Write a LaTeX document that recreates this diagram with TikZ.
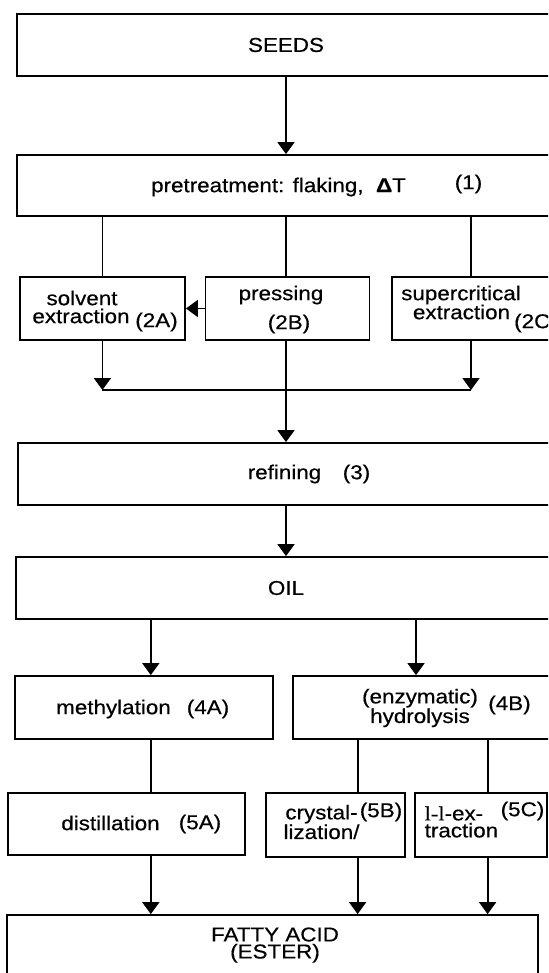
\documentclass[tikz,border=0pt]{standalone}
\usepackage{fontspec}
\setmainfont{Liberation Sans}[FakeStretch=1.12, FakeBold=0.5]
\newfontfamily\serifl{Liberation Serif}[FakeStretch=1.12, FakeBold=0.5]
\usetikzlibrary{arrows.meta, calc}

\begin{document}
\begin{tikzpicture}[
    x=1pt, y=-1pt,
    procbox/.style 2 args={
      draw, line width=1.8pt, inner sep=0pt,
      minimum width=#1pt, minimum height=#2pt,
      font=\fontsize{20}{17}\selectfont
    },
    txt/.style={inner sep=0pt, align=center, font=\fontsize{20}{17}\selectfont},
    flow/.style={-{Triangle[length=12pt, width=17pt]}, line width=1.8pt},
    link/.style={line width=1.8pt},
]
    \useasboundingbox (0,0) rectangle (548,973);
    \clip (0,0) rectangle (548,973);

    % columns of the connectors
    \coordinate (cL) at (102.4,0);
    \coordinate (cM) at (286,0);
    \coordinate (cR) at (471,0);
    \coordinate (cA) at (150.8,0);
    \coordinate (cO) at (416,0);
    \coordinate (cB) at (357.6,0);
    \coordinate (cC) at (487.6,0);

    % boxes
    \node[procbox={537.5}{62}] (seeds) at (286,45) {SEEDS};
    \node[procbox={537.5}{61}] (pre) at (286,185.5) {};
    \node[procbox={165}{63}] (solv) at (102.5,308.5) {};
    \node[procbox={164}{63}] (press) at (287.5,308.5) {};
    \node[procbox={159.5}{63}] (super) at (472,308.5) {};
    \node[procbox={536}{62}] (refin) at (286,474) {};
    \node[procbox={540}{62}] (oil) at (286,588) {OIL};
    \node[procbox={258}{63}] (meth) at (144,707.5) {};
    \node[procbox={262}{63}] (hydro) at (424,707.5) {};
    \node[procbox={236.4}{62}] (dist) at (126.5,824) {};
    \node[procbox={138.7}{64}] (cryst) at (335.3,825) {};
    \node[procbox={131.7}{64}] (llex) at (480.8,825) {};
    \node[procbox={530.7}{84}] (fatty) at (272.6,957) {};

    % texts
    \node[txt] (pretxt) at (278.5,187) {pretreatment: flaking,\ \ {\bfseries Δ}T};
    \node[txt] (n1) at (468.5,184) {(1)};
    \node[txt] (solvtxt) at (82,298) {solvent};
    \node[txt] (solvtxt2) at (81,316) {extraction};
    \node[txt] (n2A) at (156.5,322) {(2A)};
    \node[txt] (presstxt) at (281,295) {pressing};
    \node[txt] (n2B) at (289,324) {(2B)};
    \node[txt] (suptxt) at (461,295) {supercritical};
    \node[txt] (suptxt2) at (461.5,312) {extraction};
    \node[txt, anchor=west] (n2C) at (514,323) {(2C)};
    \node[txt] (reftxt) at (284.5,474) {refining};
    \node[txt] (n3) at (356.5,474) {(3)};
    \node[txt] (methtxt) at (113.5,709) {methylation};
    \node[txt] (n4A) at (208,709) {(4A)};
    \node[txt] (hydtxt) at (420,708) {(enzymatic)\\hydrolysis};
    \node[txt] (n4B) at (509.5,705) {(4B)};
    \node[txt] (disttxt) at (110.5,823) {distillation};
    \node[txt] (n5A) at (200,824) {(5A)};
    \node[txt] (crytxt) at (321.5,822) {crystal-\\lization/};
    \node[txt] (n5B) at (381,812) {(5B)};
    \node[txt, anchor=west, align=left] (lltxt) at (424.5,822) {{\serifl l-l}-ex-\\traction};
    \node[txt] (n5C) at (522.5,811) {(5C)};
    \node[txt] (fattxt) at (275,945) {FATTY ACID\\(ESTER)};

    % connectors
    \draw[flow] (seeds.south) -- (pre.north);
    \draw[link] (pre.south -| cL) -- (solv.north -| cL);
    \draw[link] (pre.south -| cM) -- (press.north -| cM);
    \draw[link] (pre.south -| cR) -- (super.north -| cR);
    \draw[flow] (press.west) -- (solv.east);

    \coordinate (joinL) at (102.4,390);
    \coordinate (joinR) at (471,390);
    \draw[flow] (solv.south -| cL) -- (joinL);
    \draw[flow] (super.south -| cR) -- (joinR);
    \draw[link] (joinL) -- (joinR);
    \draw[flow] (press.south -| cM) -- (refin.north -| cM);
    \draw[flow] (refin.south) -- (oil.north);

    \draw[flow] (oil.south -| cA) -- (meth.north -| cA);
    \draw[flow] (oil.south -| cO) -- (hydro.north -| cO);
    \draw[link] (meth.south -| cA) -- (dist.north -| cA);
    \draw[link] (hydro.south -| cB) -- (cryst.north -| cB);
    \draw[link] (hydro.south -| cC) -- (llex.north -| cC);

    \draw[flow] (dist.south -| cA) -- (fatty.north -| cA);
    \draw[flow] (cryst.south -| cB) -- (fatty.north -| cB);
    \draw[flow] (llex.south -| cC) -- (fatty.north -| cC);
\end{tikzpicture}
\end{document}
